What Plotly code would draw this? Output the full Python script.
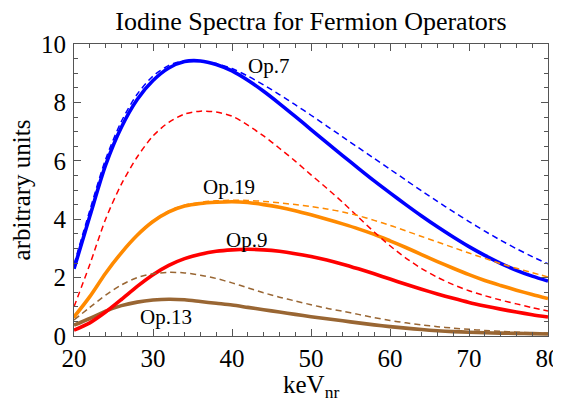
import plotly.graph_objects as go

# Energy grid (keV_nr)
energy = list(range(20, 81, 2))

# Solid curves
op7_solid = [2.3, 4.1, 5.85, 7.15, 8.1, 8.75, 9.18, 9.4, 9.42, 9.3, 9.08, 8.76, 8.38, 7.96, 7.52, 7.07,
             6.62, 6.18, 5.74, 5.31, 4.9, 4.5, 4.11, 3.74, 3.39, 3.06, 2.76, 2.49, 2.25, 2.05, 1.88]
op19_solid = [0.65, 1.35, 2.15, 2.85, 3.45, 3.92, 4.25, 4.45, 4.54, 4.58, 4.6, 4.57, 4.5, 4.41, 4.29, 4.15,
              4.0, 3.84, 3.67, 3.48, 3.26, 3.03, 2.79, 2.55, 2.32, 2.1, 1.9, 1.73, 1.57, 1.42, 1.28]
op9_solid = [0.2, 0.45, 0.82, 1.25, 1.7, 2.1, 2.42, 2.65, 2.8, 2.9, 2.95, 2.97, 2.95, 2.9, 2.82, 2.72,
             2.6, 2.46, 2.3, 2.13, 1.95, 1.77, 1.6, 1.44, 1.29, 1.15, 1.03, 0.92, 0.82, 0.73, 0.65]
op13_solid = [0.37, 0.6, 0.85, 1.04, 1.16, 1.23, 1.26, 1.24, 1.18, 1.12, 1.06, 0.98, 0.9, 0.82, 0.74, 0.66,
              0.59, 0.52, 0.45, 0.38, 0.32, 0.27, 0.22, 0.18, 0.15, 0.13, 0.11, 0.1, 0.09, 0.08, 0.07]

# Dashed curves
op7_dashed = [2.45, 4.3, 6.05, 7.35, 8.28, 8.9, 9.27, 9.43, 9.42, 9.33, 9.16, 8.9, 8.6, 8.27, 7.92, 7.56,
              7.19, 6.82, 6.45, 6.08, 5.71, 5.34, 4.97, 4.61, 4.26, 3.92, 3.59, 3.28, 2.99, 2.72, 2.47]
op19_dashed = [0.62, 1.35, 2.15, 2.87, 3.47, 3.95, 4.28, 4.48, 4.58, 4.63, 4.65, 4.64, 4.61, 4.56, 4.5, 4.43,
               4.35, 4.25, 4.12, 3.96, 3.79, 3.6, 3.41, 3.22, 3.03, 2.84, 2.66, 2.48, 2.32, 2.17, 2.02]
op9_dashed = [1.0, 2.45, 4.0, 5.2, 6.13, 6.85, 7.32, 7.6, 7.7, 7.67, 7.53, 7.22, 6.85, 6.43, 5.99, 5.52,
              5.06, 4.58, 4.07, 3.56, 3.09, 2.67, 2.31, 2.01, 1.76, 1.55, 1.38, 1.23, 1.1, 0.97, 0.86]
op13_dashed = [0.55, 0.98, 1.4, 1.75, 2.0, 2.13, 2.18, 2.16, 2.08, 1.97, 1.82, 1.65, 1.48, 1.33, 1.2, 1.07,
               0.95, 0.85, 0.74, 0.63, 0.53, 0.45, 0.38, 0.32, 0.27, 0.23, 0.19, 0.16, 0.13, 0.11, 0.1]

labels = ["Op.7", "Op.19", "Op.9", "Op.13"]
label_x = [44.6, 39.6, 41.8, 31.6]
label_y = [9.25, 5.1, 3.28, 0.64]

x_ticks = [20, 30, 40, 50, 60, 70, 80]
y_ticks = [0, 2, 4, 6, 8, 10]

BLUE = "#0000FF"
ORANGE = "#FF8A00"
RED = "#FF0000"
BROWN = "#996633"

fig = go.Figure()
dashed = [(op13_dashed, BROWN), (op9_dashed, RED), (op19_dashed, ORANGE), (op7_dashed, BLUE)]
solid = [(op13_solid, BROWN), (op9_solid, RED), (op19_solid, ORANGE), (op7_solid, BLUE)]
for ys, c in solid:
    fig.add_trace(go.Scatter(x=energy, y=ys, mode="lines", line=dict(color=c, width=3.6, shape="spline", smoothing=0.8), showlegend=False, hoverinfo="skip"))
for ys, c in dashed:
    fig.add_trace(go.Scatter(x=energy, y=ys, mode="lines", line=dict(color=c, width=1.5, dash="6px,4px", shape="spline", smoothing=0.8), showlegend=False, hoverinfo="skip"))

FONT = "Liberation Serif"
for t, lx, ly in zip(labels, label_x, label_y):
    fig.add_annotation(x=lx, y=ly, text=t, showarrow=False, font=dict(family=FONT, size=21, color="black"))

# x-axis title as an annotation, placed just below the tick labels
fig.add_annotation(x=0.5, y=0, xref="paper", yref="paper", xanchor="center", yanchor="top", yshift=-33,
                   text="keV<sub>nr</sub>", showarrow=False, font=dict(family=FONT, size=25, color="black"))

axis_common = dict(
    showgrid=False, zeroline=False, showline=True, linecolor="#555", linewidth=1, mirror="allticks",
    ticks="inside", ticklen=7, tickwidth=1, tickcolor="#555", automargin=False,
    tickfont=dict(family=FONT, size=25, color="black"),
)
fig.update_xaxes(range=[20, 80], tickvals=x_ticks, ticktext=[str(v) for v in x_ticks],
                 minor=dict(dtick=2, tick0=20, ticks="inside", ticklen=4, tickcolor="#555", showgrid=False),
                 ticklabelstandoff=0,
                 **axis_common)
fig.update_yaxes(range=[0, 10], tickvals=y_ticks, ticktext=[str(v) for v in y_ticks],
                 minor=dict(dtick=0.5, tick0=0, ticks="inside", ticklen=4, tickcolor="#555", showgrid=False),
                 title=dict(text="arbitrary units", font=dict(family=FONT, size=25, color="black"), standoff=4),
                 ticklabelstandoff=2,
                 **axis_common)

# The page body adds an 8px offset; the figure is sized so the plot lands where the reference has it.
W, H = 553, 400
fig.update_layout(
    width=W, height=H,
    margin=dict(l=66, r=13, t=36, b=72),
    plot_bgcolor="white", paper_bgcolor="white",
    title=dict(text="Iodine Spectra for Fermion Operators", x=0.5, xref="paper", xanchor="center",
               y=1 - 13 / H, yref="container", yanchor="middle",
               font=dict(family=FONT, size=26, color="black"), automargin=False),
)

fig.write_html("out.html")
